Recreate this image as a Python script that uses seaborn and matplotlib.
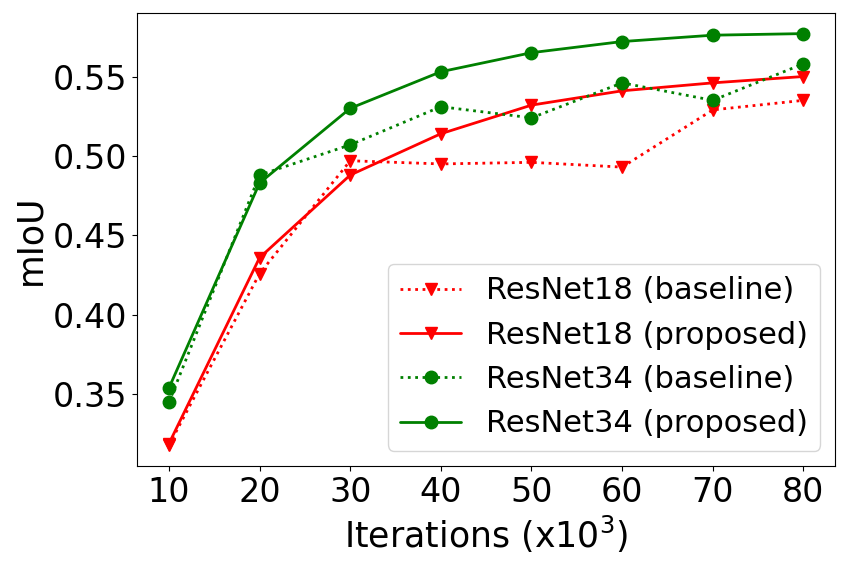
import matplotlib
matplotlib.use("Agg")
import matplotlib.pyplot as plt
import seaborn as sns

iters = [10, 20, 30, 40, 50, 60, 70, 80]

r18_baseline = [0.318, 0.426, 0.497, 0.495, 0.496, 0.493, 0.529, 0.535]
r18_proposed = [0.319, 0.436, 0.488, 0.514, 0.532, 0.541, 0.546, 0.550]
r34_baseline = [0.345, 0.488, 0.507, 0.531, 0.524, 0.546, 0.535, 0.558]
r34_proposed = [0.354, 0.483, 0.530, 0.553, 0.565, 0.572, 0.576, 0.577]

sns.set_style("ticks", {
    "text.color": "black",
    "axes.labelcolor": "black",
    "axes.edgecolor": "black",
    "xtick.color": "black",
    "ytick.color": "black",
    "xtick.major.size": 3.5,
    "ytick.major.size": 3.5,
})

fig, ax = plt.subplots(figsize=(8.47, 5.66), dpi=100)

series = [
    ("ResNet18 (baseline)", r18_baseline, "red", ":", "v"),
    ("ResNet18 (proposed)", r18_proposed, "red", "-", "v"),
    ("ResNet34 (baseline)", r34_baseline, "green", ":", "o"),
    ("ResNet34 (proposed)", r34_proposed, "green", "-", "o"),
]

for name, vals, col, ls, mk in series:
    sns.lineplot(
        x=iters, y=vals, ax=ax, label=name,
        color=col, linestyle=ls, marker=mk,
        markersize=9, linewidth=2,
        markeredgecolor=col, markeredgewidth=1,
    )

ax.set_xticks(iters)
ax.tick_params(labelsize=24, width=0.8)
for sp in ax.spines.values():
    sp.set_linewidth(0.8)
ax.set_xlabel("Iterations (x10$^3$)", fontsize=25)
ax.set_ylabel("mIoU", fontsize=25)
ax.legend(loc="lower right", fontsize=22)

plt.subplots_adjust(left=0.162, right=0.986, top=0.977, bottom=0.177)
plt.savefig("out.png", dpi=100)
